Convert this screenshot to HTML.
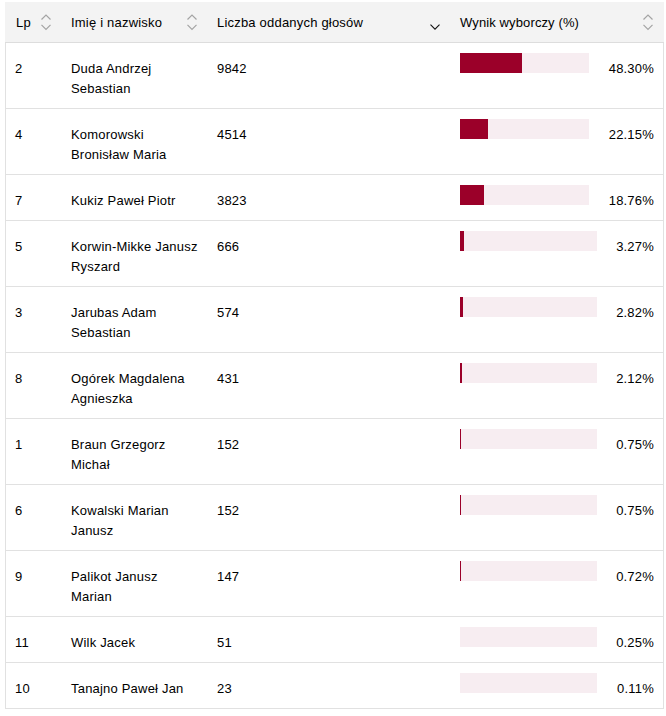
<!DOCTYPE html>
<html lang="pl">
<head>
<meta charset="utf-8">
<title>Wyniki</title>
<style>
html,body{margin:0;padding:0;background:#fff;}
body{width:666px;height:716px;overflow:hidden;position:relative;
  font-family:"Liberation Sans",Arial,sans-serif;font-size:13px;color:#000;letter-spacing:0.2px;}
.tbl{position:absolute;left:5px;top:2px;width:659px;}
.hd{position:relative;height:40px;background:#f3f3f3;border-bottom:1px solid #ddd;}
.hd span.t{position:absolute;top:1px;line-height:40px;white-space:nowrap;}
.row{position:relative;border-bottom:1px solid #e1e1e1;border-left:1px solid #e1e1e1;border-right:1px solid #e1e1e1;box-sizing:border-box;}
.row.two{height:66px;}
.row.one{height:46px;}
.c{position:absolute;top:16px;line-height:20px;white-space:nowrap;}
.lp{left:9px;}
.nm{left:65px;}
.lv{left:211px;}
.pc{right:9px;text-align:right;}
.bar{position:absolute;left:454px;top:10px;height:20px;background:#f7edf1;}
.bar i{position:absolute;left:0;top:0;bottom:0;background:#9b0029;}
svg.s{position:absolute;}
</style>
</head>
<body>
<div class="tbl">
  <div class="hd">
    <span class="t" style="left:11px">Lp</span>
    <svg class="s" style="left:35px;top:11px" width="12" height="20" viewBox="0 0 12 20"><path d="M1.5 6.5 L6 2 L10.5 6.5 M1.5 11.8 L6 16.3 L10.5 11.8" fill="none" stroke="#a4a4a4" stroke-width="1.2"/></svg>
    <span class="t" style="left:66px">Imię i nazwisko</span>
    <svg class="s" style="left:181px;top:11px" width="12" height="20" viewBox="0 0 12 20"><path d="M1.5 6.5 L6 2 L10.5 6.5 M1.5 11.8 L6 16.3 L10.5 11.8" fill="none" stroke="#a4a4a4" stroke-width="1.2"/></svg>
    <span class="t" style="left:212px">Liczba oddanych głosów</span>
    <svg class="s" style="left:424px;top:11px" width="12" height="20" viewBox="0 0 12 20"><path d="M1.5 11.6 L6 16.2 L10.5 11.6" fill="none" stroke="#111" stroke-width="1.1"/></svg>
    <span class="t" style="left:455px;letter-spacing:0.12px">Wynik wyborczy (%)</span>
    <svg class="s" style="left:637px;top:11px" width="12" height="20" viewBox="0 0 12 20"><path d="M1.5 6.5 L6 2 L10.5 6.5 M1.5 11.8 L6 16.3 L10.5 11.8" fill="none" stroke="#a4a4a4" stroke-width="1.2"/></svg>
  </div>
  <div class="row two"><span class="c lp">2</span><span class="c nm">Duda Andrzej<br>Sebastian</span><span class="c lv">9842</span><div class="bar" style="width:129px"><i style="width:62px"></i></div><span class="c pc">48.30%</span></div>
  <div class="row two"><span class="c lp">4</span><span class="c nm">Komorowski<br>Bronisław Maria</span><span class="c lv">4514</span><div class="bar" style="width:129px"><i style="width:28px"></i></div><span class="c pc">22.15%</span></div>
  <div class="row one"><span class="c lp">7</span><span class="c nm">Kukiz Paweł Piotr</span><span class="c lv">3823</span><div class="bar" style="width:129px"><i style="width:24px"></i></div><span class="c pc">18.76%</span></div>
  <div class="row two"><span class="c lp">5</span><span class="c nm">Korwin-Mikke Janusz<br>Ryszard</span><span class="c lv">666</span><div class="bar" style="width:137px"><i style="width:4px"></i></div><span class="c pc">3.27%</span></div>
  <div class="row two"><span class="c lp">3</span><span class="c nm">Jarubas Adam<br>Sebastian</span><span class="c lv">574</span><div class="bar" style="width:137px"><i style="width:3px"></i></div><span class="c pc">2.82%</span></div>
  <div class="row two"><span class="c lp">8</span><span class="c nm">Ogórek Magdalena<br>Agnieszka</span><span class="c lv">431</span><div class="bar" style="width:137px"><i style="width:2px"></i></div><span class="c pc">2.12%</span></div>
  <div class="row two"><span class="c lp">1</span><span class="c nm">Braun Grzegorz<br>Michał</span><span class="c lv">152</span><div class="bar" style="width:137px"><i style="width:1px"></i></div><span class="c pc">0.75%</span></div>
  <div class="row two"><span class="c lp">6</span><span class="c nm">Kowalski Marian<br>Janusz</span><span class="c lv">152</span><div class="bar" style="width:137px"><i style="width:1px"></i></div><span class="c pc">0.75%</span></div>
  <div class="row two"><span class="c lp">9</span><span class="c nm">Palikot Janusz<br>Marian</span><span class="c lv">147</span><div class="bar" style="width:137px"><i style="width:1px"></i></div><span class="c pc">0.72%</span></div>
  <div class="row one"><span class="c lp">11</span><span class="c nm">Wilk Jacek</span><span class="c lv">51</span><div class="bar" style="width:137px"><i style="width:0px"></i></div><span class="c pc">0.25%</span></div>
  <div class="row one"><span class="c lp">10</span><span class="c nm">Tanajno Paweł Jan</span><span class="c lv">23</span><div class="bar" style="width:137px"><i style="width:0px"></i></div><span class="c pc">0.11%</span></div>
</div>
</body>
</html>
